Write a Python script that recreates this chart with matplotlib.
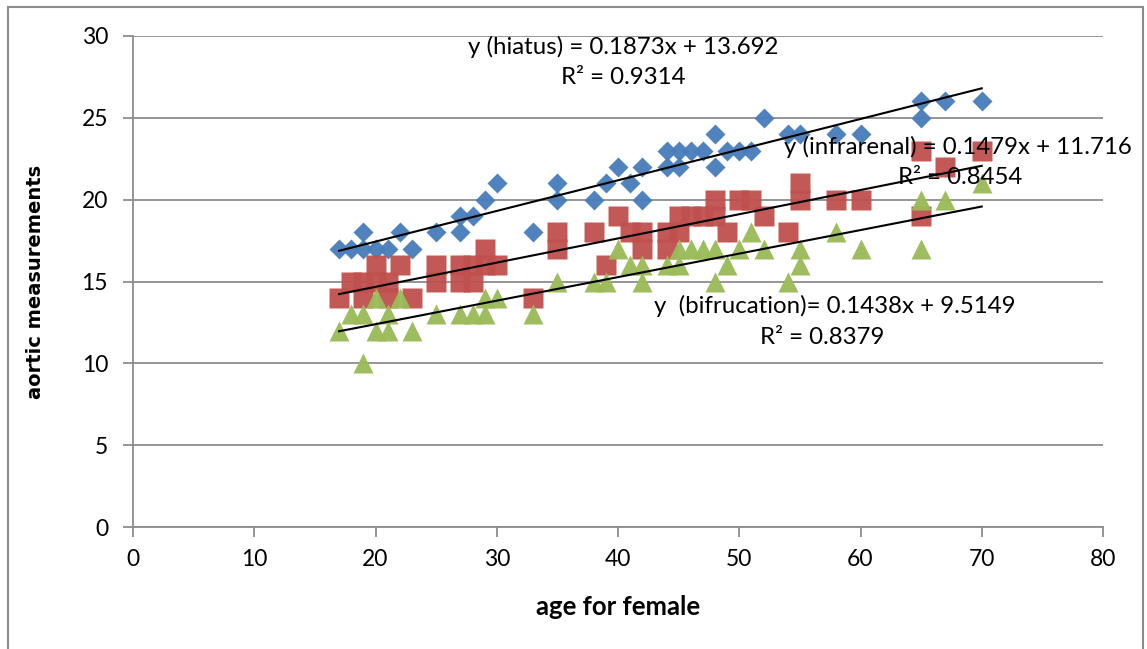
import matplotlib.pyplot as plt
import numpy as np
from matplotlib.patches import Rectangle

# age for female, one entry per measurement
hiatus_age = [17, 18, 19, 19, 20, 21, 22, 23, 25, 27, 27, 28, 29, 30, 33, 35, 35, 38, 39, 40,
              41, 42, 42, 44, 44, 45, 45, 46, 47, 48, 48, 49, 50, 51, 52, 54, 55, 58, 60, 65,
              65, 67, 70]
hiatus_val = [17, 17, 18, 17, 17, 17, 18, 17, 18, 19, 18, 19, 20, 21, 18, 21, 20, 20, 21, 22,
              21, 22, 20, 23, 22, 23, 22, 23, 23, 24, 22, 23, 23, 23, 25, 24, 24, 24, 24, 26,
              25, 26, 26]

infra_age = [17, 18, 19, 19, 20, 20, 21, 21, 22, 23, 25, 25, 27, 27, 28, 28, 29, 29, 30, 33,
             35, 35, 38, 39, 40, 41, 42, 42, 44, 44, 45, 45, 46, 47, 48, 48, 49, 50, 51, 52,
             54, 55, 55, 58, 60, 65, 65, 67, 70]
infra_val = [14, 15, 15, 14, 16, 15, 15, 14, 16, 14, 16, 15, 16, 15, 16, 15, 17, 16, 16, 14,
             18, 17, 18, 16, 19, 18, 18, 17, 18, 17, 19, 18, 19, 19, 20, 19, 18, 20, 20, 19,
             18, 21, 20, 20, 20, 23, 19, 22, 23]

bif_age = [17, 18, 19, 19, 20, 20, 21, 21, 22, 23, 25, 27, 28, 29, 29, 30, 33, 35, 38, 39,
           40, 41, 42, 42, 44, 45, 45, 46, 47, 48, 48, 49, 50, 51, 52, 54, 55, 55, 58, 60,
           65, 65, 67, 70]
bif_val = [12, 13, 13, 10, 14, 12, 13, 12, 14, 12, 13, 13, 13, 14, 13, 14, 13, 15, 15, 15,
           17, 16, 16, 15, 16, 17, 16, 17, 17, 17, 15, 16, 17, 18, 17, 15, 17, 16, 18, 17,
           20, 17, 20, 21]

# trendline coefficients as printed on the chart (slope, intercept)
hiatus_fit = (0.1873, 13.692)
infra_fit = (0.1479, 11.716)
bif_fit = (0.1438, 9.5149)

W, H = 1147, 649
fig = plt.figure(figsize=(W / 100, H / 100), dpi=100)
ax = fig.add_axes([133 / W, 1 - 527 / H, (1103 - 133) / W, (527 - 36) / H])

grey = "#8c8c8c"
ax.set_xlim(0, 80)
ax.set_ylim(0, 30)
ax.set_xticks(range(0, 81, 10))
ax.set_yticks(range(0, 31, 5))
ax.yaxis.grid(True, color=grey, lw=1.3)
ax.set_axisbelow(True)
for s in ["top", "right"]:
    ax.spines[s].set_visible(False)
for s in ["left", "bottom"]:
    ax.spines[s].set_color(grey)
    ax.spines[s].set_linewidth(1.3)
ax.tick_params(direction="out", length=7, width=1.3, color=grey, labelsize=16.5)
ax.tick_params(axis="x", pad=9)
ax.tick_params(axis="y", pad=11)
for lbl in ax.get_xticklabels() + ax.get_yticklabels():
    lbl.set_family("Lato")

ax.plot(hiatus_age, hiatus_val, "D", ms=10.5, color="#4a7ebb", mec="none", alpha=0.97)
ax.plot(infra_age, infra_val, "s", ms=14, color="#c0504d", mec="none", alpha=0.95)
ax.plot(bif_age, bif_val, "^", ms=15, color="#9bbb59", mec="none", alpha=0.97)

xs = np.array([17, 70])
for m, b in [hiatus_fit, infra_fit, bif_fit]:
    ax.plot(xs, m * xs + b, color="black", lw=1.5)

ax.set_xlabel("age for female", family="Lato", weight="bold", fontsize=18.5, labelpad=18)
ax.set_ylabel("aortic measurements", family="DejaVu Sans", weight="bold", fontsize=14, labelpad=26)

def ftext(x, y, s, ha="center"):
    fig.text(x / W, 1 - y / H, s, ha=ha, va="center", family="Lato", fontsize=17.3)

ftext(623, 47, "y (hiatus) = 0.1873x + 13.692")
ftext(623, 78, "R² = 0.9314")
ftext(958, 147, "y (infrarenal) = 0.1479x + 11.716")
ftext(960, 178, "R² = 0.8454")
ftext(835, 306, "y  (bifrucation)= 0.1438x + 9.5149")
ftext(822, 337, "R² = 0.8379")

fig.patches.append(Rectangle((8 / W, -0.01), (1143 - 8) / W, 1 - 7 / H + 0.01,
                             transform=fig.transFigure, fill=False, ec=grey, lw=1.5))

fig.savefig("out.png", dpi=100)
